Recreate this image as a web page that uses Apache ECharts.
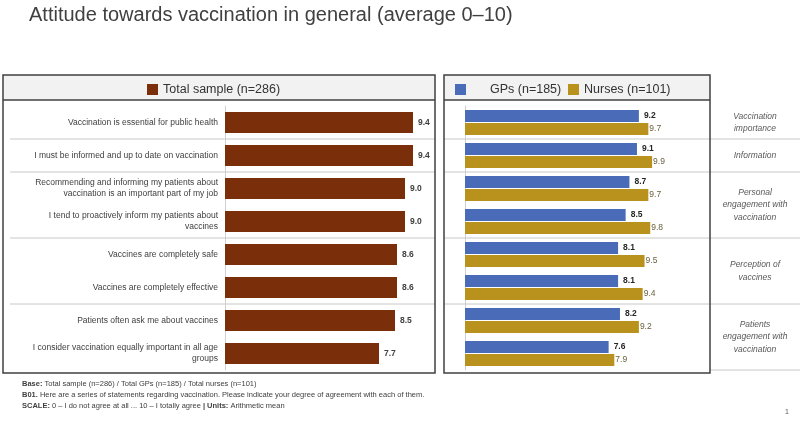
<!DOCTYPE html>
<html><head><meta charset="utf-8">
<script src="https://cdn.jsdelivr.net/npm/echarts@6/dist/echarts.min.js"></script>
<style>html,body{margin:0;padding:0;background:#fff}#c{width:800px;height:421px}</style>
</head><body><div id="c"></div>
<script>
const statements = [
  'Vaccination is essential for public health',
  'I must be informed and up to date on vaccination',
  'Recommending and informing my patients about\nvaccination is an important part of my job',
  'I tend to proactively inform my patients about\nvaccines',
  'Vaccines are completely safe',
  'Vaccines are completely effective',
  'Patients often ask me about vaccines',
  'I consider vaccination equally important in all age\ngroups'
];
const totalSample = [9.4, 9.4, 9.0, 9.0, 8.6, 8.6, 8.5, 7.7];
const gps = [9.2, 9.1, 8.7, 8.5, 8.1, 8.1, 8.2, 7.6];
const nurses = [9.7, 9.9, 9.7, 9.8, 9.5, 9.4, 9.2, 7.9];
const groupNames = ['Vaccination\nimportance', 'Information', 'Personal\nengagement with\nvaccination', 'Perception of\nvaccines', 'Patients\nengagement with\nvaccination'];
const groupSpans = [1, 1, 2, 2, 2];

const FONT = 'Liberation Sans, Arial, sans-serif';
const GRID_TOP = 106, GRID_H = 264, N = statements.length, BAND = GRID_H / N;

const chart = echarts.init(document.getElementById('c'));

const graphics = [];
function box(x1, x2) {
  graphics.push({type:'rect', shape:{x:x1, y:75, width:x2-x1, height:25}, style:{fill:'#f2f2f2', stroke:null}, z:0});
  graphics.push({type:'line', shape:{x1:x1, y1:100, x2:x2, y2:100}, style:{stroke:'#404040', lineWidth:1.5}, z:5});
  graphics.push({type:'rect', shape:{x:x1, y:75, width:x2-x1, height:298}, style:{fill:null, stroke:'#404040', lineWidth:1.5}, z:5});
}
box(3, 435);
box(444, 710);
let acc = 0;
const bounds = [];
groupSpans.forEach(s => { acc += s; bounds.push(acc); });
let start = 0;
groupSpans.forEach((s, i) => {
  const yEnd = GRID_TOP + bounds[i] * BAND;
  const yStart = GRID_TOP + start * BAND;
  if (i < groupSpans.length - 1) {
    graphics.push({type:'line', shape:{x1:10, y1:yEnd, x2:435, y2:yEnd}, style:{stroke:'#c8c8c8', lineWidth:1}, z:1});
    graphics.push({type:'line', shape:{x1:444, y1:yEnd, x2:800, y2:yEnd}, style:{stroke:'#c8c8c8', lineWidth:1}, z:1});
  } else {
    graphics.push({type:'line', shape:{x1:710, y1:yEnd, x2:800, y2:yEnd}, style:{stroke:'#c8c8c8', lineWidth:1}, z:1});
  }
  graphics.push({type:'text', x:755, y:(yStart + yEnd) / 2, style:{text:groupNames[i], font:'italic 8.5px ' + FONT, fill:'#595959', align:'center', verticalAlign:'middle', lineHeight:12.5}, z:3});
  start = bounds[i];
});
graphics.push({type:'text', left:22, top:380, style:{
  rich:{b:{fontWeight:'bold', fontSize:7.5, fontFamily:FONT, fill:'#404040', lineHeight:11}, n:{fontSize:7.5, fontFamily:FONT, fill:'#404040', lineHeight:11}},
  text:'{b|Base:}{n| Total sample (n=286) / Total GPs (n=185) / Total nurses (n=101)}\n{b|B01.}{n| Here are a series of statements regarding vaccination. Please indicate your degree of agreement with each of them.}\n{b|SCALE:}{n| 0 – I do not agree at all ... 10 – I totally agree }{b|| Units:}{n| Arithmetic mean}'
}});
graphics.push({type:'text', left:785, top:409, style:{text:'1', fontSize:7, fontFamily:FONT, fill:'#595959'}});

chart.setOption({
  animation:false,
  title:{text:'Attitude towards vaccination in general (average 0–10)', left:24, top:0,
    textStyle:{fontFamily:FONT, fontSize:20, fontWeight:'normal', color:'#404040'}},
  legend:[
    {data:['Total sample (n=286)'], left:142, top:78, icon:'rect', itemWidth:11, itemHeight:11,
      textStyle:{fontFamily:FONT, fontSize:12.5, color:'#333'}, selectedMode:false},
    {data:['GPs (n=185)'], left:450, top:78, icon:'rect', itemWidth:11, itemHeight:11,
      textStyle:{fontFamily:FONT, fontSize:12.5, color:'#333', padding:[0,0,0,19]}, selectedMode:false},
    {data:['Nurses (n=101)'], left:563, top:78, icon:'rect', itemWidth:11, itemHeight:11,
      textStyle:{fontFamily:FONT, fontSize:12.5, color:'#333'}, selectedMode:false}
  ],
  grid:[
    {left:225, width:200, top:GRID_TOP, height:GRID_H},
    {left:465, width:189, top:GRID_TOP, height:GRID_H}
  ],
  xAxis:[
    {gridIndex:0, type:'value', min:0, max:10, show:false},
    {gridIndex:1, type:'value', min:0, max:10, show:false}
  ],
  yAxis:[
    {gridIndex:0, type:'category', data:statements, inverse:true,
      axisLine:{show:true, lineStyle:{color:'#d0d0d0'}}, axisTick:{show:false},
      axisLabel:{margin:7, fontFamily:FONT, fontSize:8.5, color:'#404040', lineHeight:11, align:'right'}},
    {gridIndex:1, type:'category', data:statements, inverse:true,
      axisLine:{show:true, lineStyle:{color:'#d0d0d0'}}, axisTick:{show:false}, axisLabel:{show:false}}
  ],
  series:[
    {name:'Total sample (n=286)', type:'bar', xAxisIndex:0, yAxisIndex:0, data:totalSample, barWidth:21,
      itemStyle:{color:'#7a2e0a'},
      label:{show:true, position:'right', distance:5, formatter:p=>p.value.toFixed(1), fontFamily:FONT, fontSize:8.5, fontWeight:'bold', color:'#404040'}},
    {name:'GPs (n=185)', type:'bar', xAxisIndex:1, yAxisIndex:1, data:gps, barWidth:12, barGap:'10%',
      itemStyle:{color:'#4a6cb8'},
      label:{show:true, position:'right', distance:5, formatter:p=>p.value.toFixed(1), fontFamily:FONT, fontSize:8.5, fontWeight:'bold', color:'#262626'}},
    {name:'Nurses (n=101)', type:'bar', xAxisIndex:1, yAxisIndex:1, data:nurses, barWidth:12, barGap:'10%',
      itemStyle:{color:'#b8921c'},
      label:{show:true, position:'right', distance:1, formatter:p=>p.value.toFixed(1), fontFamily:FONT, fontSize:8.5, color:'#6b6040'}}
  ],
  graphic:graphics
});
</script></body></html>
